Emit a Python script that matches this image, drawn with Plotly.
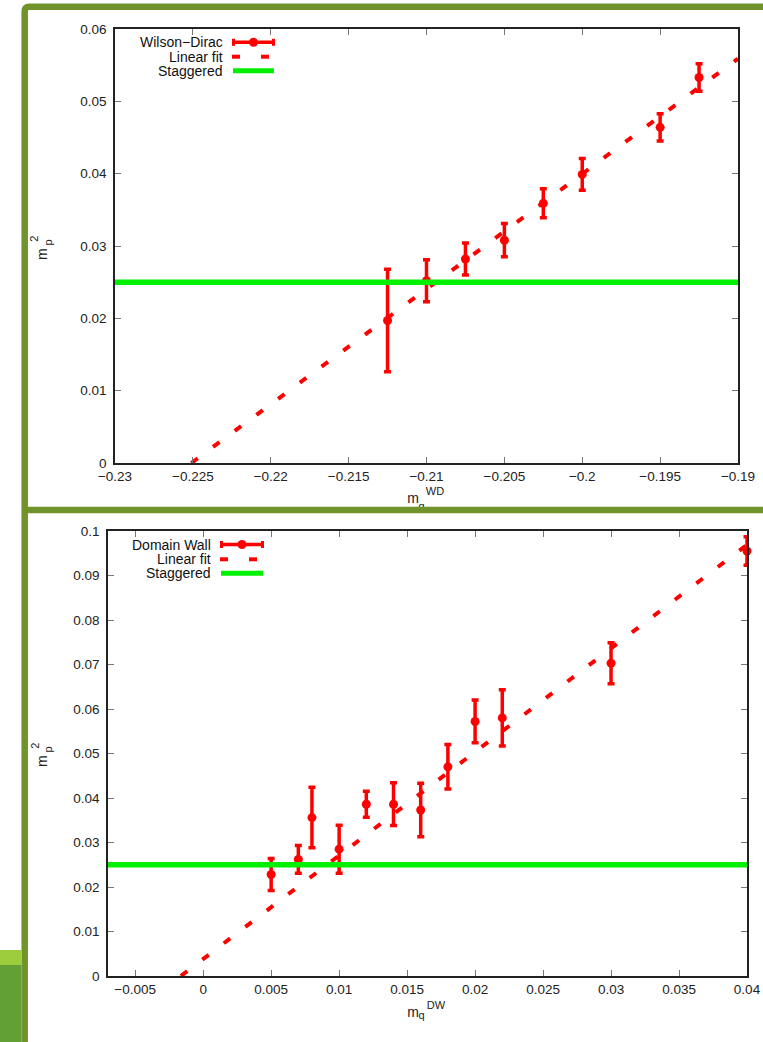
import plotly.graph_objects as go

# ---- Wilson-Dirac data ----
wd_mq = [-0.2125, -0.21, -0.2075, -0.205, -0.2025, -0.2, -0.195, -0.1925]
wd_mp2 = [0.0197, 0.0252, 0.0282, 0.0308, 0.0359, 0.0399, 0.0464, 0.0533]
wd_err = [0.0071, 0.0029, 0.0022, 0.0023, 0.0020, 0.0022, 0.0019, 0.0019]
wd_fit_x = [-0.2251, -0.19]
wd_fit_y = [0.0, 0.0559]

# ---- Domain Wall data ----
dw_mq = [0.005, 0.007, 0.008, 0.010, 0.012, 0.014, 0.016, 0.018, 0.020, 0.022, 0.030, 0.040]
dw_mp2 = [0.0228, 0.0262, 0.0356, 0.0285, 0.0386, 0.0386, 0.0373, 0.0470, 0.0572, 0.0580, 0.0703, 0.0955]
dw_err = [0.0036, 0.0031, 0.0068, 0.0054, 0.0029, 0.0048, 0.0060, 0.0050, 0.0048, 0.0063, 0.0046, 0.0032]
dw_fit_x = [-0.00164, 0.04]
dw_fit_y = [0.0, 0.0969]

# ---- staggered reference value ----
stag_mp2 = 0.025

# ---- axis ranges and tick labels ----
wd_xrange = [-0.23, -0.19]
wd_yrange = [0, 0.06]
wd_xticks = [-0.23, -0.225, -0.22, -0.215, -0.21, -0.205, -0.2, -0.195, -0.19]
wd_xticktext = ["\u22120.23", "\u22120.225", "\u22120.22", "\u22120.215", "\u22120.21",
                "\u22120.205", "\u22120.2", "\u22120.195", "\u22120.19"]
wd_yticks = [0, 0.01, 0.02, 0.03, 0.04, 0.05, 0.06]
wd_yticktext = ["0", "0.01", "0.02", "0.03", "0.04", "0.05", "0.06"]

dw_xrange = [-0.007, 0.04]
dw_yrange = [0, 0.1]
dw_xticks = [-0.005, 0, 0.005, 0.01, 0.015, 0.02, 0.025, 0.03, 0.035, 0.04]
dw_xticktext = ["\u22120.005", "0", "0.005", "0.01", "0.015", "0.02", "0.025", "0.03", "0.035", "0.04"]
dw_yticks = [0, 0.01, 0.02, 0.03, 0.04, 0.05, 0.06, 0.07, 0.08, 0.09, 0.1]
dw_yticktext = ["0", "0.01", "0.02", "0.03", "0.04", "0.05", "0.06", "0.07", "0.08", "0.09", "0.1"]

W, H = 763, 1042
RED = "#ff0000"
GREEN = "#00f000"
OLIVE = "#71942a"
FONT = "Liberation Sans"
TXT = "#222222"


def px(x):
    return x / W


def py(y):
    return 1 - y / H


fig = go.Figure()

# top panel traces
fig.add_trace(go.Scatter(
    x=wd_mq, y=wd_mp2, mode="markers", xaxis="x", yaxis="y",
    marker=dict(color=RED, size=9),
    error_y=dict(type="data", array=wd_err, color=RED, thickness=3.5, width=3.5),
    cliponaxis=False, showlegend=False))
fig.add_trace(go.Scatter(
    x=wd_fit_x, y=wd_fit_y, mode="lines", xaxis="x", yaxis="y",
    line=dict(color=RED, width=4, dash="8px,19px"), showlegend=False))
fig.add_trace(go.Scatter(
    x=wd_xrange, y=[stag_mp2, stag_mp2], mode="lines", xaxis="x", yaxis="y",
    line=dict(color=GREEN, width=5.5), showlegend=False))

# bottom panel traces
fig.add_trace(go.Scatter(
    x=dw_mq, y=dw_mp2, mode="markers", xaxis="x2", yaxis="y2",
    marker=dict(color=RED, size=9),
    error_y=dict(type="data", array=dw_err, color=RED, thickness=3.5, width=3.5),
    cliponaxis=False, showlegend=False))
fig.add_trace(go.Scatter(
    x=dw_fit_x, y=dw_fit_y, mode="lines", xaxis="x2", yaxis="y2",
    line=dict(color=RED, width=4, dash="8px,19px"), showlegend=False))
fig.add_trace(go.Scatter(
    x=dw_xrange, y=[stag_mp2, stag_mp2], mode="lines", xaxis="x2", yaxis="y2",
    line=dict(color=GREEN, width=5.5), showlegend=False))

# x-axis titles (m_q^WD, m_q^DW) on a hidden page-pixel overlay, so that the
# slide frame drawn above it can cover the descender of the subscript
title_pieces_x = [413, 421.5, 435, 413, 421.5, 436]
title_pieces_y = [499.5, 507.5, 492.5, 1013.5, 1016.5, 1006]
title_pieces_text = ["m", "q", "WD", "m", "q", "DW"]
title_pieces_size = [14, 11, 11, 14, 11, 11]
fig.add_trace(go.Scatter(
    x=title_pieces_x, y=title_pieces_y, text=title_pieces_text, mode="text",
    textposition="middle center", xaxis="x3", yaxis="y3",
    textfont=dict(family=FONT, size=title_pieces_size, color=TXT),
    cliponaxis=False, showlegend=False, hoverinfo="skip"))

axis_common = dict(
    showline=True, linecolor="#222222", linewidth=1.5, mirror="allticks",
    ticks="inside", ticklen=6, tickcolor="#777777", tickwidth=1,
    showgrid=False, zeroline=False, automargin=False,
    tickfont=dict(family=FONT, size=13.5, color=TXT),
    tickmode="array",
)

fig.update_layout(
    template="none",
    width=W, height=H, autosize=False,
    margin=dict(l=0, r=0, t=0, b=0, pad=0, autoexpand=False),
    paper_bgcolor="white", plot_bgcolor="rgba(0,0,0,0)",
    xaxis=dict(axis_common, domain=[px(115), px(738)], range=wd_xrange, anchor="y",
               tickvals=wd_xticks, ticktext=wd_xticktext),
    yaxis=dict(axis_common, domain=[py(463), py(29)], range=wd_yrange, anchor="x",
               tickvals=wd_yticks, ticktext=wd_yticktext, ticklabelstandoff=4),
    xaxis2=dict(axis_common, domain=[px(108), px(747)], range=dw_xrange, anchor="y2",
                tickvals=dw_xticks, ticktext=dw_xticktext),
    yaxis2=dict(axis_common, domain=[py(976), py(531)], range=dw_yrange, anchor="x2",
                tickvals=dw_yticks, ticktext=dw_yticktext, ticklabelstandoff=4),
    xaxis3=dict(domain=[0, 1], range=[0, W], visible=False, anchor="y3", fixedrange=True),
    yaxis3=dict(domain=[0, 1], range=[H, 0], visible=False, anchor="x3", fixedrange=True),
)

shapes = []
annotations = []

# slide frame
frame_path = "M {:.5f},{:.5f} L {:.5f},{:.5f} Q {:.5f},{:.5f} {:.5f},{:.5f} L {:.5f},{:.5f}".format(
    px(24.7), py(1050), px(24.7), py(11), px(24.7), py(6.7), px(29), py(6.7), px(770), py(6.7))
shapes.append(dict(type="path", xref="paper", yref="paper", path=frame_path,
                   line=dict(color=OLIVE, width=6.5)))
shapes.append(dict(type="line", xref="paper", yref="paper",
                   x0=px(24.7), x1=px(770), y0=py(510), y1=py(510),
                   line=dict(color=OLIVE, width=6.5)))
shapes.append(dict(type="rect", xref="paper", yref="paper",
                   x0=0, x1=px(21.5), y0=py(965), y1=py(950),
                   fillcolor="#9dcc3d", line=dict(width=0)))
shapes.append(dict(type="rect", xref="paper", yref="paper",
                   x0=0, x1=px(21.5), y0=0, y1=py(965),
                   fillcolor="#62a035", line=dict(width=0)))


def legend_block(text_right, sample_x0, sample_x1, rows, labels):
    for yrow, label in zip(rows, labels):
        annotations.append(dict(xref="paper", yref="paper", x=px(text_right), y=py(yrow),
                                xanchor="right", yanchor="middle", showarrow=False,
                                text=label, font=dict(family=FONT, size=14, color="#111111")))
    # data sample: horizontal error bar with marker
    y0 = rows[0]
    shapes.append(dict(type="line", xref="paper", yref="paper",
                       x0=px(sample_x0), x1=px(sample_x1), y0=py(y0), y1=py(y0),
                       line=dict(color=RED, width=3.5)))
    for xc in (sample_x0 + 1.5, sample_x1 - 1.5):
        shapes.append(dict(type="line", xref="paper", yref="paper",
                           x0=px(xc), x1=px(xc), y0=py(y0 - 3.5), y1=py(y0 + 3.5),
                           line=dict(color=RED, width=3)))
    xm = (sample_x0 + sample_x1) / 2
    shapes.append(dict(type="circle", xref="paper", yref="paper",
                       x0=px(xm - 4.5), x1=px(xm + 4.5), y0=py(y0 + 4.5), y1=py(y0 - 4.5),
                       fillcolor=RED, line=dict(width=0)))
    # fit sample: two dashes
    y1 = rows[1]
    for d0 in (sample_x0, sample_x0 + 29):
        shapes.append(dict(type="line", xref="paper", yref="paper",
                           x0=px(d0), x1=px(d0 + 8), y0=py(y1), y1=py(y1),
                           line=dict(color=RED, width=4)))
    # staggered sample
    y2 = rows[2]
    shapes.append(dict(type="line", xref="paper", yref="paper",
                       x0=px(sample_x0 + 1), x1=px(sample_x1 - 1), y0=py(y2), y1=py(y2),
                       line=dict(color=GREEN, width=5)))


legend_block(225, 232, 275, [42.3, 56.7, 70.7],
             ["Wilson\u2212Dirac", "Linear fit", "Staggered"])
legend_block(212.7, 220, 264, [544.5, 559.3, 573.3],
             ["Domain Wall", "Linear fit", "Staggered"])

# y-axis titles m_p^2, rotated, built from base letter, subscript and superscript
for dy in (0, 507):
    for text, xc, yc, size in (("m", 42.1, 761 - dy, 14),
                               ("p", 47.5, 750 - dy, 11),
                               ("2", 34.2, 745.5 - dy, 11)):
        annotations.append(dict(xref="paper", yref="paper", x=px(xc), y=py(yc), textangle=-90,
                                xanchor="center", yanchor="middle", showarrow=False,
                                text=text, font=dict(family=FONT, size=size, color=TXT)))

fig.update_layout(shapes=shapes, annotations=annotations)

fig.write_html("out.html")
